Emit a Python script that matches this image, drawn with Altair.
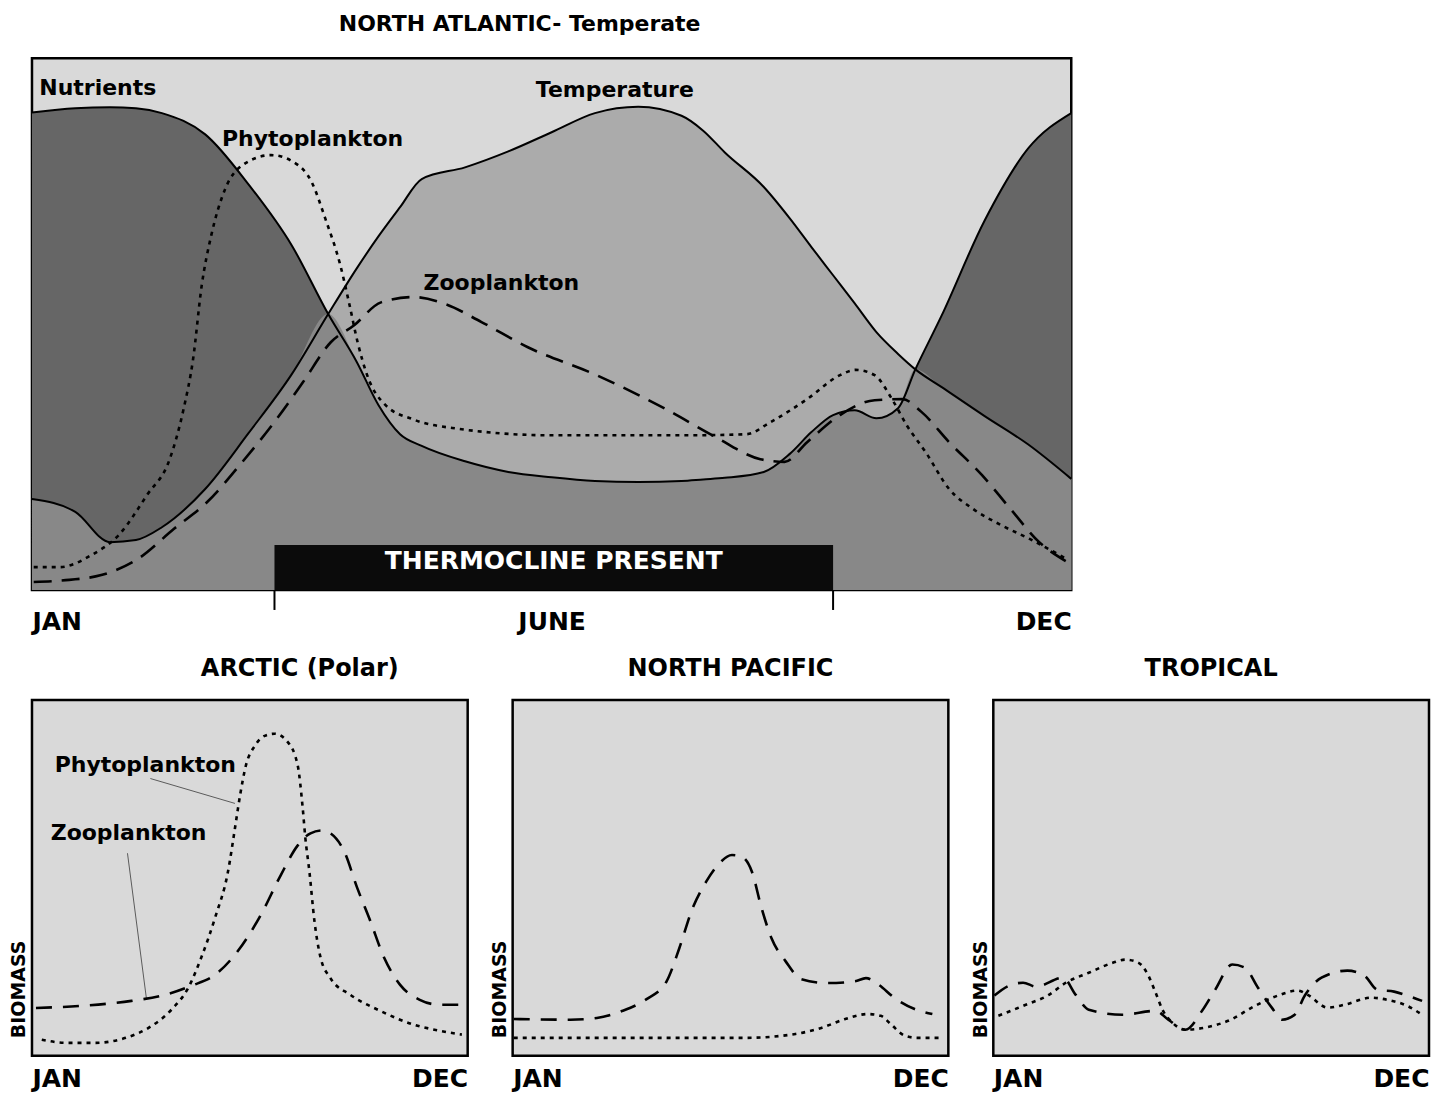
import altair as alt
import pandas as pd

FONT = "DejaVu Sans"
BG = "#d9d9d9"
TEMP_FILL = "#ababab"
NUTR_FILL = "#666666"
BOTH_FILL = "#888888"

# ---------------- North Atlantic (temperate) ----------------
na_month = [0.0, 0.5, 0.9, 1.2, 1.5, 2.0, 2.5, 3.0, 3.42, 3.75, 4.0, 4.25, 4.5, 5.0, 5.5,
            6.0, 6.5, 7.0, 7.5, 7.75, 8.0, 8.45, 8.75, 9.0, 9.25, 9.5, 9.75, 10.0, 10.2, 10.5,
            11.0, 11.5, 12.0]
na_nutrients = [89.8, 90.6, 90.8, 90.6, 89.7, 85.7, 76.3, 64.8, 51.9, 42.9, 34.8, 29.3, 27.1,
                24.2, 22.2, 21.2, 20.5, 20.3, 20.5, 20.8, 21.1, 22.2, 25.6, 29.7, 32.9, 33.8,
                32.3, 34.2, 41.5, 51.5, 69.5, 83.0, 89.7]
na_temperature = [17.1, 14.7, 9.0, 9.4, 11.8, 19.0, 29.5, 40.6, 51.9, 60.5, 66.5, 72.0, 77.3,
                  79.5, 82.5, 86.1, 89.7, 90.9, 89.2, 86.4, 82.3, 75.8, 69.9, 64.5, 59.2, 53.9,
                  48.5, 44.4, 41.5, 38.2, 32.7, 27.4, 20.9]

na_phyto_month = [0.02, 0.32, 0.69, 1.0, 1.33, 1.59, 1.75, 1.86, 1.96, 2.07, 2.23, 2.43, 2.76,
                  3.02, 3.23, 3.39, 3.56, 3.66, 3.76, 3.87, 4.08, 4.40, 4.93, 5.99, 7.58, 8.25,
                  8.53, 8.95, 9.33, 9.51, 9.73, 9.93, 10.10, 10.32, 10.59, 10.87, 11.19, 11.52,
                  11.95]
na_phyto = [4.3, 4.3, 6.6, 10.3, 17.9, 24.6, 34.0, 43.4, 57.3, 66.7, 75.4, 79.9, 81.8, 80.5,
            76.7, 69.7, 61.1, 54.1, 46.6, 40.4, 34.8, 32.1, 30.3, 29.1, 29.1, 29.3, 31.6, 35.9,
            40.4, 41.4, 40.4, 35.9, 31.0, 25.9, 19.0, 15.2, 12.2, 9.6, 5.8]

na_zoo_month = [0.02, 0.43, 0.80, 1.22, 1.64, 2.02, 2.43, 2.80, 3.13, 3.45, 3.72, 4.03, 4.40,
                4.77, 5.19, 5.72, 6.52, 7.32, 7.89, 8.41, 8.69, 8.95, 9.33, 9.73, 10.05, 10.27,
                10.59, 10.97, 11.30, 11.63, 11.95]
na_zoo = [1.5, 1.9, 2.8, 5.8, 11.5, 16.5, 24.1, 31.6, 39.1, 46.6, 49.8, 54.1, 55.1, 53.8, 50.4,
          45.7, 40.4, 34.0, 28.8, 24.6, 24.1, 27.8, 32.9, 35.7, 35.9, 33.5, 27.8, 21.6, 15.2,
          9.0, 5.3]

thermo_start, thermo_end, thermo_top = 2.8, 9.25, 8.46
thermo_text = "THERMOCLINE PRESENT"

na_label_text = ["Nutrients", "Temperature", "Phytoplankton", "Zooplankton"]
na_label_month = [0.76, 6.73, 3.24, 5.42]
na_label_value = [94.5, 94.0, 84.8, 57.7]

# ---------------- Arctic (polar) ----------------
ar_phyto_month = [0.27, 0.93, 1.75, 2.58, 3.21, 3.84, 4.30, 4.66, 5.04, 5.40, 5.59, 5.73, 5.89,
                  6.14, 6.41, 6.68, 7.04, 7.32, 7.45, 7.53, 7.64, 7.78, 7.95, 8.22, 8.77, 9.59,
                  10.52, 11.23, 11.84]
ar_phyto = [4.5, 3.6, 3.6, 5.0, 7.8, 12.9, 19.0, 27.5, 38.7, 51.8, 63.9, 73.1, 81.5, 87.1, 89.9,
            90.5, 88.2, 81.5, 70.3, 61.1, 51.8, 37.8, 27.5, 21.8, 17.1, 12.6, 8.7, 7.0, 5.9]
ar_zoo_month = [0.11, 1.37, 2.74, 3.67, 4.38, 5.04, 5.67, 6.30, 6.85, 7.32, 7.67, 8.00, 8.22,
                8.60, 8.96, 9.32, 9.70, 10.14, 10.68, 11.23, 11.89]
ar_zoo = [13.4, 14.0, 15.4, 17.1, 19.6, 22.7, 29.4, 39.5, 50.7, 59.1, 62.5, 63.3, 62.5, 57.4,
          47.1, 37.8, 27.5, 19.9, 15.7, 14.3, 14.3]
ar_label_text = ["Phytoplankton", "Zooplankton"]
ar_label_month = [3.12, 2.66]
ar_label_value = [81.8, 62.5]
ar_leader_x = [3.26, 2.63]
ar_leader_y = [77.9, 56.9]
ar_leader_x2 = [5.59, 3.15]
ar_leader_y2 = [70.9, 16.2]

# ---------------- North Pacific ----------------
np_zoo_month = [0.03, 1.59, 2.32, 3.03, 3.69, 4.24, 4.59, 4.95, 5.33, 5.68, 6.04, 6.31, 6.59,
                6.86, 7.13, 7.52, 7.95, 8.69, 9.43, 9.73, 10.06, 10.52, 11.07, 11.56]
np_zoo = [10.3, 10.1, 10.6, 12.6, 15.9, 20.9, 30.2, 41.3, 48.9, 53.9, 56.4, 55.9, 51.7, 41.3,
          33.0, 26.5, 21.5, 20.4, 20.9, 21.8, 20.1, 16.2, 13.1, 11.7]
np_phyto_month = [0.03, 2.76, 6.42, 7.79, 8.50, 9.16, 9.78, 10.14, 10.41, 10.80, 11.15, 11.78]
np_phyto = [5.0, 5.0, 5.0, 6.1, 7.8, 10.3, 11.7, 11.2, 8.9, 5.6, 5.0, 5.0]

# ---------------- Tropical ----------------
tr_zoo_month = [0.03, 0.44, 0.82, 1.18, 1.92, 2.27, 2.63, 3.56, 4.47, 4.82, 5.29, 5.75, 6.11,
                6.58, 6.93, 7.29, 7.67, 7.95, 8.30, 8.58, 9.04, 9.75, 10.22, 10.58, 11.04,
                11.40, 11.81]
tr_zoo = [16.9, 19.7, 20.5, 19.4, 21.9, 17.1, 12.9, 11.5, 12.6, 10.1, 7.3, 12.6, 18.5, 25.6,
          24.7, 19.1, 13.5, 10.1, 11.5, 16.9, 21.9, 23.9, 22.5, 18.5, 18.0, 16.9, 15.4]
tr_phyto_month = [0.14, 0.82, 1.53, 2.00, 2.63, 3.29, 3.64, 4.00, 4.27, 4.47, 4.66, 4.93, 5.29,
                  5.84, 6.47, 7.21, 7.84, 8.38, 8.66, 9.21, 9.67, 10.41, 10.85, 11.40, 11.81]
tr_phyto = [11.2, 14.0, 17.1, 20.5, 23.3, 26.1, 27.0, 26.1, 22.5, 17.7, 12.9, 9.3, 7.3, 7.9,
            9.8, 14.0, 16.9, 18.3, 17.1, 13.5, 14.3, 16.3, 15.7, 14.0, 11.5]

# ---------------- helpers ----------------
W_TOP, H_TOP = 1040, 532
W_BOT, H_BOT = 436, 356

XSCALE = alt.Scale(domain=[0, 12], nice=False, zero=False)
YSCALE = alt.Scale(domain=[0, 100], nice=False, zero=False)


def x_axis(values, expr, pad):
    return alt.Axis(values=values, labelExpr=expr, labelFlush=True, labelPadding=pad,
                    labelFontSize=25, labelFont=FONT, labelFontWeight="bold",
                    labelColor="black", ticks=False, domain=False, grid=False, title=None)


TOP_XAXIS = x_axis([0, 6, 12],
                   "datum.value == 0 ? 'JAN' : (datum.value == 6 ? 'JUNE' : 'DEC')", 20)
BOT_XAXIS = x_axis([0, 12], "datum.value == 0 ? 'JAN' : 'DEC'", 11)


def tx(field):
    return alt.X(f"{field}:Q", scale=XSCALE, axis=TOP_XAXIS)


def ty(field):
    return alt.Y(f"{field}:Q", scale=YSCALE, axis=None)


# ---------------- top chart ----------------
na_df = pd.DataFrame({"month": na_month, "nutrients": na_nutrients,
                      "temperature": na_temperature})
phyto_df = pd.DataFrame({"month": na_phyto_month, "value": na_phyto})
zoo_df = pd.DataFrame({"month": na_zoo_month, "value": na_zoo})
thermo_df = pd.DataFrame({"start": [thermo_start], "end": [thermo_end],
                          "bottom": [0.0], "top": [thermo_top],
                          "mid": [(thermo_start + thermo_end) / 2]})
tick_df = pd.DataFrame({"month": [thermo_start, thermo_end], "y0": [0.0, 0.0],
                        "y1": [-3.76, -3.76]})
na_lab_df = pd.DataFrame({"month": na_label_month, "value": na_label_value,
                          "label": na_label_text})

base = alt.Chart(na_df)
temp_area = base.mark_area(interpolate="monotone", color=TEMP_FILL).encode(
    x=tx("month"), y=ty("temperature"))
nutr_area = base.mark_area(interpolate="monotone", color=NUTR_FILL).encode(
    x=tx("month"), y=ty("nutrients"))
both_area = base.transform_calculate(
    both="min(datum.nutrients, datum.temperature)"
).mark_area(interpolate="monotone", color=BOTH_FILL).encode(x=tx("month"), y=ty("both"))
nutr_line = base.mark_line(interpolate="monotone", color="black", strokeWidth=2).encode(
    x=tx("month"), y=ty("nutrients"))
temp_line = base.mark_line(interpolate="monotone", color="black", strokeWidth=2).encode(
    x=tx("month"), y=ty("temperature"))
phyto_line = alt.Chart(phyto_df).mark_line(
    interpolate="monotone", color="black", strokeWidth=2.6, strokeDash=[4, 5]
).encode(x=tx("month"), y=ty("value"))
zoo_line = alt.Chart(zoo_df).mark_line(
    interpolate="monotone", color="black", strokeWidth=2.6, strokeDash=[18, 10]
).encode(x=tx("month"), y=ty("value"))
thermo_bar = alt.Chart(thermo_df).mark_rect(color="#0b0b0b").encode(
    x=tx("start"), x2="end", y=ty("bottom"), y2="top")
thermo_lab = alt.Chart(thermo_df).transform_calculate(
    half="datum.top / 2"
).mark_text(
    text=thermo_text, color="white", font=FONT, fontWeight="bold", fontSize=25,
    baseline="middle", align="center", dy=-6
).encode(x=tx("mid"), y=ty("half"))
ticks = alt.Chart(tick_df).mark_rule(color="black", strokeWidth=2).encode(
    x=tx("month"), y=ty("y0"), y2="y1")
na_labels = alt.Chart(na_lab_df).mark_text(
    font=FONT, fontWeight="bold", fontSize=22, color="black", align="center",
    baseline="middle").encode(x=tx("month"), y=ty("value"), text="label:N")

top = alt.layer(temp_area, nutr_area, both_area, nutr_line, temp_line, phyto_line,
                zoo_line, thermo_bar, thermo_lab, ticks, na_labels).properties(
    width=W_TOP, height=H_TOP,
    title=alt.TitleParams("NORTH ATLANTIC- Temperate", font=FONT, fontWeight="bold",
                          fontSize=22, color="black", dx=-32, offset=22, anchor="middle"))


# ---------------- bottom panels ----------------
def bx(field):
    return alt.X(f"{field}:Q", scale=XSCALE, axis=BOT_XAXIS)


BIOMASS_AXIS = alt.Axis(title="BIOMASS", labels=False, ticks=False, domain=False, grid=False,
                        titleFont=FONT, titleFontWeight="bold", titleFontSize=19,
                        titleColor="black", titleAngle=270, titleAlign="left",
                        titleBaseline="middle", titleX=-13, titleY=H_BOT - 18)


def by(field):
    return alt.Y(f"{field}:Q", scale=YSCALE, axis=BIOMASS_AXIS)


def panel(title, dx, pm, pv, zm, zv, labels=None, leaders=None):
    pdf = pd.DataFrame({"month": pm, "value": pv})
    zdf = pd.DataFrame({"month": zm, "value": zv})
    layers = []
    if leaders is not None:
        layers.append(alt.Chart(leaders).mark_rule(color="#5a5a5a", strokeWidth=1).encode(
            x=bx("x"), y=by("y"), x2="x2", y2="y2"))
    layers.append(alt.Chart(zdf).mark_line(
        interpolate="monotone", color="black", strokeWidth=2.6, strokeDash=[16, 11]
    ).encode(x=bx("month"), y=by("value")))
    layers.append(alt.Chart(pdf).mark_line(
        interpolate="monotone", color="black", strokeWidth=2.6, strokeDash=[4, 5]
    ).encode(x=bx("month"), y=by("value")))
    if labels is not None:
        layers.append(alt.Chart(labels).mark_text(
            font=FONT, fontWeight="bold", fontSize=22, color="black", align="center",
            baseline="middle").encode(x=bx("month"), y=by("value"), text="label:N"))
    return alt.layer(*layers).properties(
        width=W_BOT, height=H_BOT,
        title=alt.TitleParams(title, font=FONT, fontWeight="bold", fontSize=24,
                              color="black", dx=dx, offset=19, anchor="middle"))


ar_labels = pd.DataFrame({"month": ar_label_month, "value": ar_label_value,
                          "label": ar_label_text})
ar_leaders = pd.DataFrame({"x": ar_leader_x, "y": ar_leader_y, "x2": ar_leader_x2,
                           "y2": ar_leader_y2})

arctic = panel("ARCTIC (Polar)", 50, ar_phyto_month, ar_phyto, ar_zoo_month, ar_zoo,
               ar_labels, ar_leaders)
npac = panel("NORTH PACIFIC", 0, np_phyto_month, np_phyto, np_zoo_month, np_zoo)
trop = panel("TROPICAL", 0, tr_phyto_month, tr_phyto, tr_zoo_month, tr_zoo)

bottom = alt.hconcat(arctic, npac, trop, spacing=45, bounds="flush")

chart = alt.vconcat(top, bottom, spacing=110, bounds="flush").properties(
    padding={"left": 0, "top": 3, "right": 0, "bottom": 0}
).configure(background="white").configure_view(fill=BG, stroke="black", strokeWidth=2.5)

chart.save("out.html", embed_options={"renderer": "svg", "actions": False})
